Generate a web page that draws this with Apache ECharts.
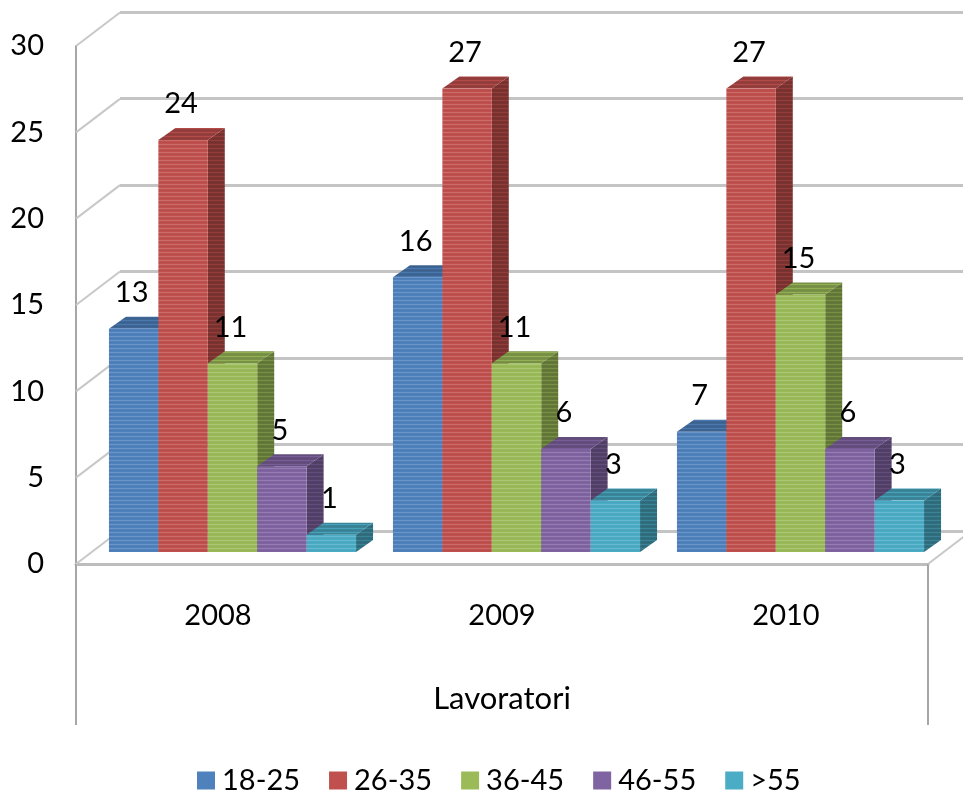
<!DOCTYPE html>
<html><head><meta charset="utf-8">
<style>html,body{margin:0;padding:0;background:#fff}#c{width:963px;height:792px;filter:blur(0.5px)}</style>
<script src="https://cdn.jsdelivr.net/npm/echarts@6/dist/echarts.min.js"></script>
</head><body><div id="c"></div>
<script>
const years = ['2008', '2009', '2010'];
const axisGroup = ['Lavoratori'];
const yTicks = [0, 5, 10, 15, 20, 25, 30];
const seriesNames = ['18-25', '26-35', '36-45', '46-55', '>55'];
const v18_25 = [13, 16, 7];
const v26_35 = [24, 27, 27];
const v36_45 = [11, 11, 15];
const v46_55 = [5, 6, 6];
const v55plus = [1, 3, 3];
const seriesValues = [v18_25, v26_35, v36_45, v46_55, v55plus];
const colors = ['#4F81BD', '#C0504D', '#9BBB59', '#8064A2', '#4BACC6'];

const FONT = 'Lato, "Open Sans", sans-serif';
const BAR_SHARE = 0.174, DX = 17, DY = 12;
const chart = echarts.init(document.getElementById('c'), null, {renderer: 'canvas'});

function shade(hex, k) {
  const n = parseInt(hex.slice(1), 16);
  const f = c => Math.max(0, Math.min(255, Math.round(k >= 1 ? c + (255 - c) * (k - 1) : c * k)));
  return 'rgb(' + f(n >> 16) + ',' + f((n >> 8) & 255) + ',' + f(n & 255) + ')';
}
function stripes(hex, k) {
  const cv = document.createElement('canvas');
  cv.width = 4; cv.height = 4;
  const g = cv.getContext('2d');
  g.fillStyle = shade(hex, k); g.fillRect(0, 0, 4, 4);
  g.fillStyle = shade(hex, k >= 1 ? k + 0.16 : k * 1.2); g.fillRect(0, 0, 4, 1);
  g.fillStyle = shade(hex, k * 0.96); g.fillRect(0, 2, 4, 1);
  return {image: cv, repeat: 'repeat'};
}

function barSeries(name, idx) {
  const base = colors[idx];
  const front = stripes(base, 1), side = stripes(base, 0.64), top = stripes(base, 0.78);
  return {
    name, type: 'custom', xAxisIndex: 1, yAxisIndex: 1, z: 5 + idx, clip: false,
    itemStyle: {color: base},
    encode: {x: 0, y: 1},
    data: seriesValues[idx].map((v, c) => [c, v]),
    renderItem(params, api) {
      const c = api.value(0), v = api.value(1);
      const p0 = api.coord([c, 0]), p1 = api.coord([c, v]);
      const w = api.size([1, 0])[0] * BAR_SHARE;
      const x0 = p0[0] - w * 2.5 + idx * w, x1 = x0 + w;
      const yb = p0[1], yt = p1[1];
      const poly = (points, fill) => ({type: 'polygon', shape: {points}, style: {fill, stroke: null}});
      return {type: 'group', children: [
        poly([[x1, yb], [x1 + DX, yb - DY], [x1 + DX, yt - DY], [x1, yt]], side),
        poly([[x0, yt], [x0 + DX, yt - DY], [x1 + DX, yt - DY], [x1, yt]], top),
        poly([[x0, yb], [x1, yb], [x1, yt], [x0, yt]], front),
        {type: 'text', z2: 50, style: {text: String(v), x: (x0 + x1) / 2 - 2, y: yt - DY - 24,
          fill: '#000', font: '29px ' + FONT, align: 'center', verticalAlign: 'middle'}}
      ]};
    }
  };
}

const frameSeries = {
  type: 'custom', xAxisIndex: 0, yAxisIndex: 0, z: 2, clip: false, silent: true,
  data: yTicks.map(v => [0, v]),
  encode: {y: 1},
  renderItem(params, api) {
    const v = api.value(1);
    const y = api.coord([0, v])[1];
    const cs = params.coordSys;
    const ln = (x) => ({type: 'line', shape: {x1: x, y1: y, x2: x + 44, y2: y - 33.5},
      style: {stroke: '#c8c8c8', lineWidth: 2}});
    const kids = [ln(cs.x)];
    if (v === 0) kids.push(ln(cs.x + cs.width));
    return {type: 'group', children: kids};
  }
};

chart.setOption({
  animation: false,
  backgroundColor: '#fff',
  grid: [
    {left: 76, right: 35, top: 46, bottom: 228},
    {left: 90.5, right: 20.5, top: 37, bottom: 240},
    {left: 120, right: -9, top: 12, bottom: 261}
  ],
  legend: {
    data: seriesNames, left: 197, top: 766, padding: 0, icon: 'rect',
    itemWidth: 18, itemHeight: 18, itemGap: 29,
    textStyle: {fontFamily: FONT, fontSize: 29, color: '#000', padding: [0, 0, 0, 2]}
  },
  xAxis: [
    {gridIndex: 0, type: 'category', data: years, position: 'bottom',
     axisLine: {show: true, lineStyle: {color: '#bdbdbd', width: 3}}, axisTick: {show: false},
     axisLabel: {margin: 37, fontFamily: FONT, fontSize: 29, color: '#000'}, splitLine: {show: false}},
    {gridIndex: 1, type: 'category', data: years, show: false},
    {gridIndex: 2, type: 'category', data: years, show: false},
    {gridIndex: 0, type: 'category', data: axisGroup, position: 'bottom',
     axisLine: {show: false},
     axisTick: {show: true, length: 161, lineStyle: {color: '#a6a6a6', width: 2}},
     axisLabel: {margin: 119, fontFamily: FONT, fontSize: 31, color: '#000'}, splitLine: {show: false}}
  ],
  yAxis: [
    {gridIndex: 0, type: 'value', min: 0, max: 30, interval: 5,
     axisLine: {show: true, lineStyle: {color: '#a6a6a6', width: 2}}, axisTick: {show: false},
     axisLabel: {margin: 32, fontFamily: FONT, fontSize: 29, color: '#000', padding: [0, 0, 7, 0]},
     splitLine: {show: false}},
    {gridIndex: 1, type: 'value', min: 0, max: 30, interval: 5, show: false},
    {gridIndex: 2, type: 'value', min: 0, max: 30, interval: 5,
     axisLine: {show: false}, axisTick: {show: false}, axisLabel: {show: false},
     splitLine: {show: true, lineStyle: {color: '#c4c4c4', width: 3}}}
  ],
  series: [frameSeries].concat(seriesNames.map(barSeries))
});
</script></body></html>
